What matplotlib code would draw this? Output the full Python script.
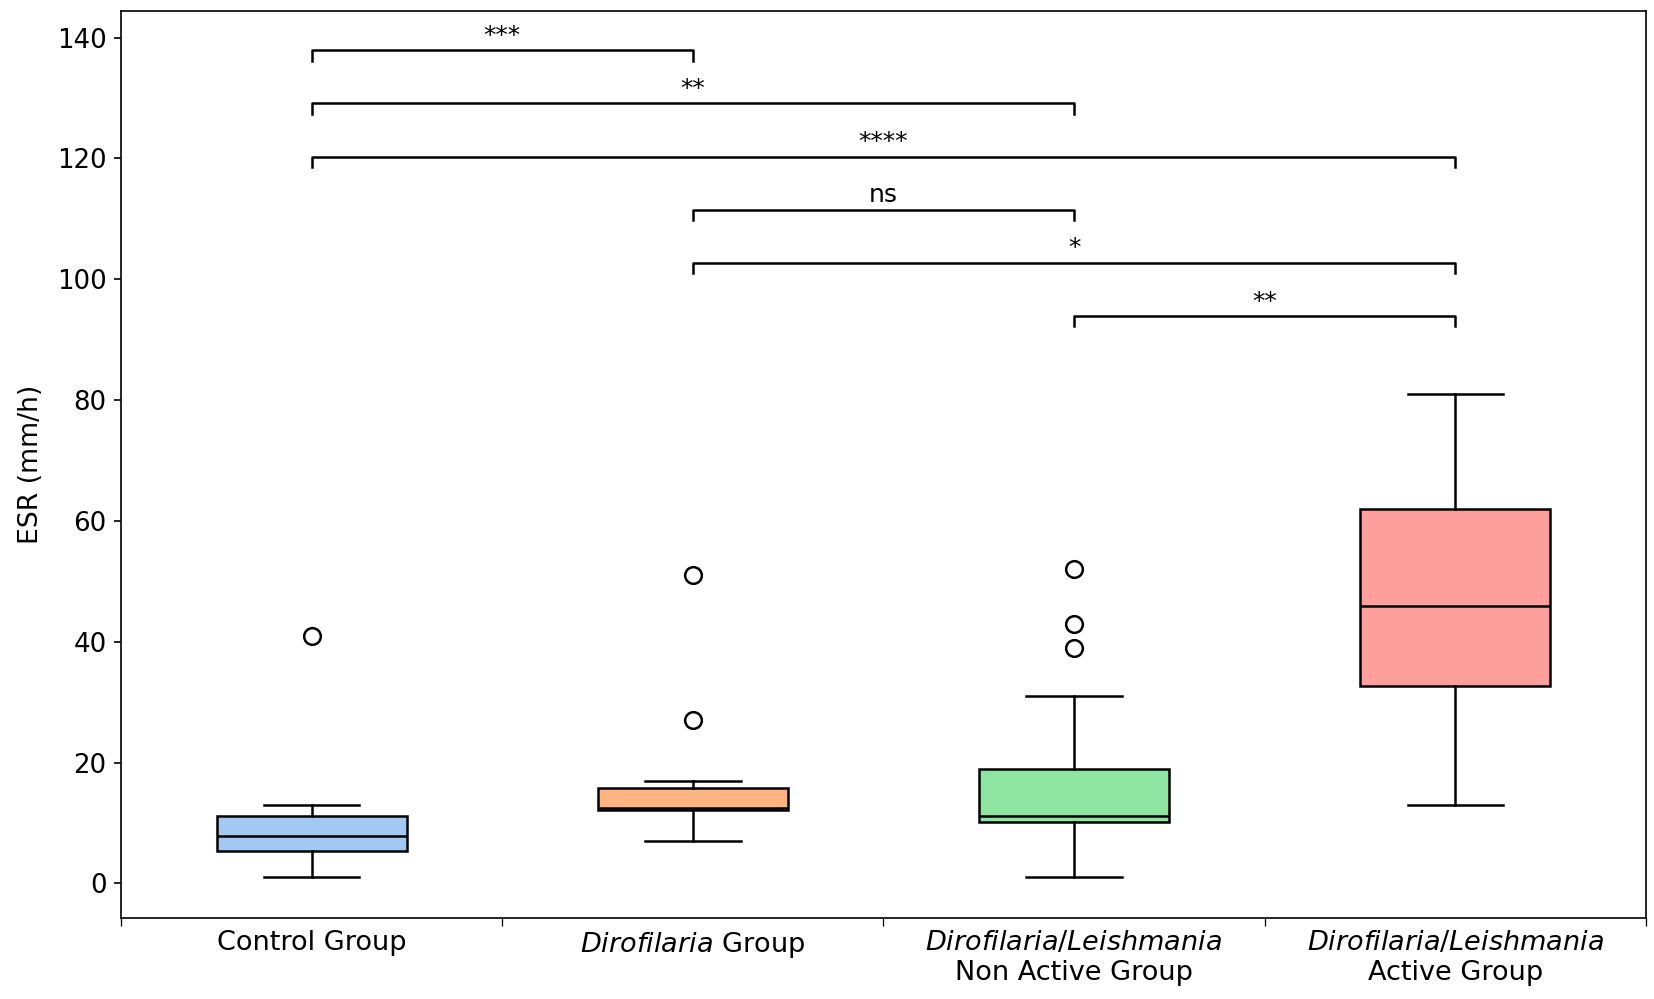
import matplotlib
matplotlib.use('Agg')
import matplotlib.pyplot as plt

# group labels (italic genus names via mathtext)
groups = ['Control Group',
          r'$\mathit{Dirofilaria}$ Group',
          r'$\mathit{Dirofilaria/Leishmania}$' + '\nNon Active Group',
          r'$\mathit{Dirofilaria/Leishmania}$' + '\nActive Group']
colors = ['#a1c9f4', '#ffb482', '#8de5a1', '#ff9f9b']

# box statistics (ESR, mm/h)
whislo = [1, 7, 1, 13]
q1 = [5.4, 12.2, 10.2, 32.6]
med = [7.8, 12.5, 11.2, 45.9]
q3 = [11.2, 15.7, 18.9, 62.0]
whishi = [13, 17, 31, 81]
fliers = [[41], [51, 27], [52, 43, 39], []]

# significance annotations
pairs = [(0, 1), (0, 2), (0, 3), (1, 2), (1, 3), (2, 3)]
signs = ['***', '**', '****', 'ns', '*', '**']
bar_y = [136.2, 127.4, 118.6, 109.8, 101.0, 92.2]
bar_h = 1.7

fig = plt.figure(figsize=(1654 / 150, 999 / 150), dpi=150)
ax = fig.add_axes([0.0733, 0.0813, 0.9217, 0.9077])

stats = []
for i in range(len(groups)):
    stats.append({'whislo': whislo[i], 'q1': q1[i], 'med': med[i],
                  'q3': q3[i], 'whishi': whishi[i], 'fliers': fliers[i]})

bp = ax.bxp(stats, positions=range(len(groups)), widths=0.5, patch_artist=True,
            medianprops={'color': 'black', 'linewidth': 1.2},
            boxprops={'linewidth': 1.2},
            whiskerprops={'linewidth': 1.2},
            capprops={'linewidth': 1.2},
            flierprops={'marker': 'o', 'markersize': 8, 'markerfacecolor': 'none',
                        'markeredgecolor': 'black', 'markeredgewidth': 1.2})
for patch, c in zip(bp['boxes'], colors):
    patch.set_facecolor(c)
    patch.set_edgecolor('black')

# significance brackets
for (a, b), s, y in zip(pairs, signs, bar_y):
    ax.plot([a, a, b, b], [y, y + bar_h, y + bar_h, y], color='black', lw=1.2)
    ax.text((a + b) / 2, y + bar_h + 0.4, s, ha='center', va='bottom', fontsize=12)

ax.set_xlim(-0.5, 3.5)
ax.set_ylim(-5.7, 144.4)
ax.set_yticks(range(0, 141, 20))
ax.set_xticks(range(len(groups)))
ax.set_xticklabels(groups)
ax.set_xticks([-0.5, 0.5, 1.5, 2.5, 3.5], minor=True)
ax.tick_params(axis='x', which='major', length=0, pad=6, labelsize=13)
ax.tick_params(axis='x', which='minor', length=4)
ax.tick_params(axis='y', labelsize=12.5)
ax.set_ylabel('ESR (mm/h)', fontsize=12.8, labelpad=6)

fig.savefig('out.png', dpi=150)
